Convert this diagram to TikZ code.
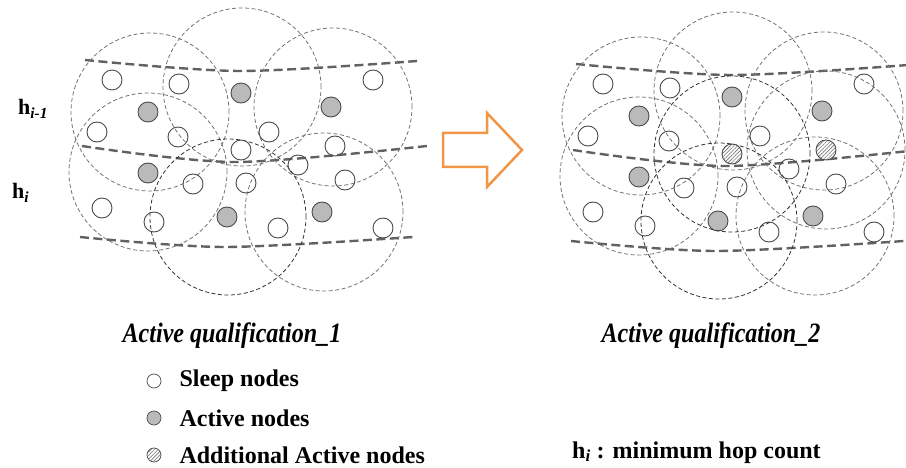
\documentclass[tikz,border=0pt]{standalone}
\usepackage{fontspec}
\setmainfont{Liberation Serif}
\newfontfamily\captionfont[FakeStretch=0.86]{Liberation Serif}
\usetikzlibrary{positioning,patterns.meta}

\definecolor{arroworange}{RGB}{240,150,70}

\tikzset{
  sensor/.style={circle, draw=black!70, line width=0.9pt, minimum size=20pt, inner sep=0pt},
  sleep/.style={sensor},
  active/.style={sensor, fill=black!27},
  extra/.style={sensor, preaction={fill=white},
    pattern={Lines[angle=45,distance=2.6pt,line width=0.6pt]}, pattern color=black!55},
  cand1/.style={sleep},
  cand2/.style={extra},
  legend/.style={minimum size=14pt, line width=0.7pt},
  coverage/.style={black!55, line width=0.8pt, dash pattern=on 4pt off 2.5pt},
  coveragedark/.style={coverage, black!80},
  hop/.style={black!62, line width=2.4pt, dash pattern=on 9pt off 4.5pt},
  caption/.style={font=\captionfont\fontsize{28}{32}\selectfont\bfseries\itshape},
  legtext/.style={font=\fontsize{24}{28}\selectfont\bfseries, inner sep=2pt},
  hlabel/.style={font=\fontsize{22}{26}\selectfont\bfseries, inner sep=0pt},
}

\begin{document}
\begin{tikzpicture}[x=1pt, y=-1pt]
  \useasboundingbox (0,0) rectangle (906,468);

  % the same field twice, second copy shifted to the right
  \foreach \p/\dx/\dy in {1/0/0, 2/491/4} {
    \begin{scope}[shift={(\dx,\dy)}]
      % hop count borders
      \draw[hop] plot[smooth] coordinates {(85,60) (240,71) (417,61)};
      \draw[hop] plot[smooth] coordinates {(82,146) (235,162) (427,146)};
      \draw[hop] plot[smooth] coordinates {(80,237) (225,247) (413,237)};

      % radio coverage of each active node
      \foreach \cx/\cy in {150/112, 242/87, 333/107, 148/172, 324/212}
        \draw[coverage] (\cx,\cy) circle[radius=79pt];
      \draw[coveragedark] (228,217) circle[radius=78pt];

      % sleeping nodes
      \foreach \nx/\ny [count=\i] in {112/80, 179/84, 373/80, 97/132, 178/137, 269/132,
          298/165, 345/180, 193/184, 246/183, 102/208, 154/222, 278/228, 383/228}
        \node[sleep] (s\p-\i) at (\nx,\ny) {};

      % active nodes
      \foreach \nx/\ny [count=\i] in {241/93, 148/112, 331/107, 148/173, 227/217, 322/212}
        \node[active] (a\p-\i) at (\nx,\ny) {};

      % nodes that get switched on in the second round
      \foreach \nx/\ny [count=\i] in {241/150, 335/146}
        \node[cand\p] (c\p-\i) at (\nx,\ny) {};
    \end{scope}
  }

  % coverage of the additional active nodes
  \draw[coveragedark] (c2-1.center) circle[radius=78pt];
  \draw[coverage] (c2-2.center) circle[radius=79pt];

  % hop labels
  \node[hlabel, anchor=base west] (hprev) at (18,115) {h\textsubscript{\itshape i-1}};
  \node[hlabel, anchor=base west] (hcur) at (12,199) {h\textsubscript{\itshape i}};

  % arrow between the two rounds
  \draw[arroworange, line width=2.5pt, line join=miter]
    (443,133) -- (487,133) -- (487,113) -- (522,150) -- (487,187) -- (487,167) -- (443,167) -- cycle;

  \node[caption, anchor=base] (cap1) at (232,342) {Active qualification\_1};
  \node[caption, anchor=base] (cap2) at (711,342) {Active qualification\_2};

  % legend
  \node[sleep, legend] (legsleep) at (154,381) {};
  \node[active, legend] (legactive) at (154,418) {};
  \node[extra, legend] (legextra) at (154,455) {};
  \node[legtext, right=16pt of legsleep] (txtsleep) {Sleep nodes};
  \node[legtext, right=16pt of legactive] (txtactive) {Active nodes};
  \node[legtext, right=16pt of legextra] (txtextra) {Additional Active nodes};

  \node[legtext, anchor=base west] (hnote) at (570,458) {h\textsubscript{\itshape i} : minimum hop count};
\end{tikzpicture}
\end{document}
